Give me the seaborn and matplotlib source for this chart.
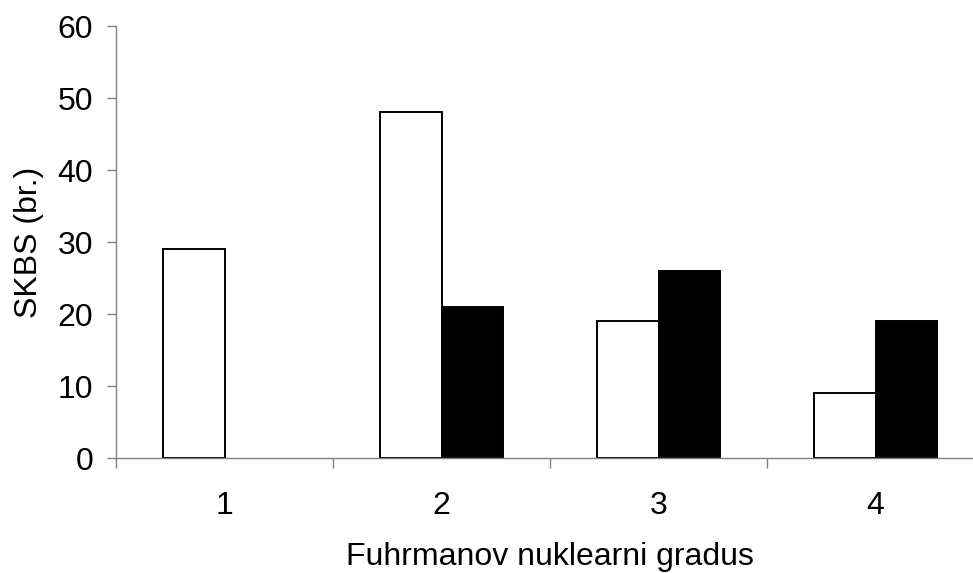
import numpy as np
import pandas as pd
import matplotlib as mpl
mpl.use('Agg')
import matplotlib.pyplot as plt
import seaborn as sns
from matplotlib.ticker import FixedLocator

sns.set_style("white")
plt.rcParams['font.family'] = ['Liberation Sans', 'DejaVu Sans']

# data
grades = ["1", "2", "3", "4"]
group_a = [29, 48, 19, 9]   # white bars
group_b = [0, 21, 26, 19]   # black bars
groups = ["A", "B"]

df = pd.DataFrame({
    "grade": grades * 2,
    "count": group_a + group_b,
    "group": [groups[0]] * len(grades) + [groups[1]] * len(grades),
})

fig = plt.figure(figsize=(9.73, 5.73), dpi=100)
ax = fig.add_axes([116 / 973, 115 / 573, 868 / 973, 432 / 573])

sns.barplot(data=df, x="grade", y="count", hue="group", order=grades,
            hue_order=groups, palette=["white", "black"], width=0.57,
            gap=0, edgecolor="black", linewidth=1.4, legend=False,
            errorbar=None, ax=ax)

# zero-height bars should not leave a line on the axis
for p in ax.patches:
    if p.get_height() == 0:
        p.set_visible(False)

ax.set_xlim(-0.5, 3.5)
ax.set_ylim(0, 60)
ax.set_yticks(np.arange(0, 61, 10))

sns.despine(ax=ax)
gray = "#808080"
for side in ["left", "bottom"]:
    ax.spines[side].set_color(gray)
    ax.spines[side].set_linewidth(1.0)

fs = 23
ax.tick_params(axis="y", which="major", direction="out", length=6.5,
               width=1.0, color=gray, labelsize=fs, labelcolor="black",
               pad=10, left=True)
ax.tick_params(axis="x", which="major", length=0, labelsize=fs,
               labelcolor="black", pad=24)
ax.xaxis.set_minor_locator(FixedLocator([-0.5, 0.5, 1.5, 2.5, 3.5]))
ax.tick_params(axis="x", which="minor", direction="out", length=7,
               width=1.0, color=gray, bottom=True)

ax.set_xlabel("Fuhrmanov nuklearni gradus", fontsize=fs, color="black",
              labelpad=15)
ax.set_ylabel("SKBS (br.)", fontsize=fs, color="black", labelpad=10)

fig.savefig("out.png", dpi=100)
